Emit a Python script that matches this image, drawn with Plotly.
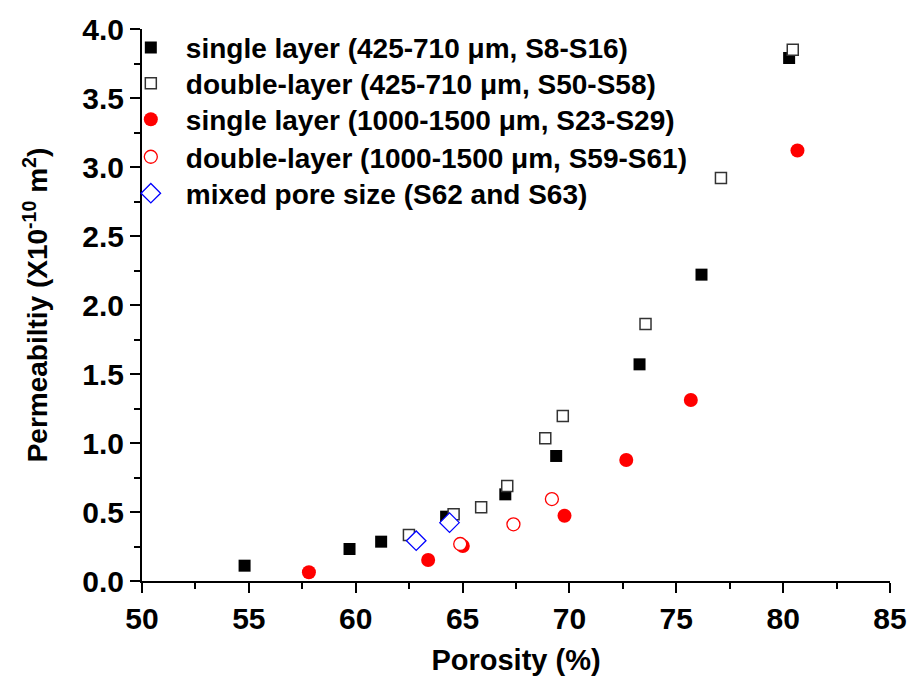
import plotly.graph_objects as go

# Data
sl425_x = [54.80, 59.71, 61.19, 64.23, 67.00, 69.38, 73.28, 76.18, 80.28]
sl425_y = [0.111, 0.232, 0.285, 0.466, 0.628, 0.906, 1.57, 2.22, 3.79]

dl425_x = [62.49, 64.58, 65.87, 67.09, 68.87, 69.69, 73.56, 77.09, 80.45]
dl425_y = [0.333, 0.483, 0.534, 0.688, 1.034, 1.196, 1.862, 2.92, 3.85]

sl1000_x = [57.81, 63.39, 65.01, 69.77, 72.66, 75.68, 80.67]
sl1000_y = [0.063, 0.152, 0.254, 0.473, 0.877, 1.312, 3.12]

dl1000_x = [64.89, 67.38, 69.18]
dl1000_y = [0.268, 0.411, 0.594]

mixed_x = [62.83, 64.39]
mixed_y = [0.292, 0.423]

names = [
    "single layer (425-710 μm, S8-S16)",
    "double-layer (425-710 μm, S50-S58)",
    "single layer (1000-1500 μm, S23-S29)",
    "double-layer (1000-1500 μm, S59-S61)",
    "mixed pore size (S62 and S63)",
]

FONT = "Liberation Sans"
legend_ids = ["legend", "legend2", "legend3", "legend4", "legend5"]
legend_rows = [0.966, 0.901, 0.836, 0.768, 0.702]

fig = go.Figure()
fig.add_trace(go.Scatter(x=sl425_x, y=sl425_y, mode="markers", name=names[0],
                         legend=legend_ids[0],
                         marker=dict(symbol="square", size=12, color="black",
                                     line=dict(width=0))))
fig.add_trace(go.Scatter(x=dl425_x, y=dl425_y, mode="markers", name=names[1],
                         legend=legend_ids[1],
                         marker=dict(symbol="square", size=11, color="white",
                                     line=dict(width=1.5, color="#333333"))))
fig.add_trace(go.Scatter(x=sl1000_x, y=sl1000_y, mode="markers", name=names[2],
                         legend=legend_ids[2],
                         marker=dict(symbol="circle", size=14, color="red",
                                     line=dict(width=0))))
fig.add_trace(go.Scatter(x=dl1000_x, y=dl1000_y, mode="markers", name=names[3],
                         legend=legend_ids[3],
                         marker=dict(symbol="circle", size=13, color="white",
                                     line=dict(width=1.3, color="red"))))
fig.add_trace(go.Scatter(x=mixed_x, y=mixed_y, mode="markers", name=names[4],
                         legend=legend_ids[4],
                         marker=dict(symbol="diamond", size=15, color="white",
                                     line=dict(width=1.3, color="blue"))))

axis_common = dict(showline=True, linecolor="black", linewidth=2,
                   showgrid=False, zeroline=False, automargin=False)

legend_style = dict(x=-0.035, xanchor="left", yanchor="middle",
                    bgcolor="rgba(0,0,0,0)", itemwidth=60,
                    font=dict(family=FONT, size=28, color="black", weight="bold"))

layout_legends = {lid: dict(y=yy, **legend_style) for lid, yy in zip(legend_ids, legend_rows)}

fig.update_layout(
    width=910, height=682,
    margin=dict(l=142, r=20, t=29, b=101),
    paper_bgcolor="white", plot_bgcolor="white",
    font=dict(family=FONT, color="black"),
    showlegend=True,
    xaxis=dict(range=[50, 85], dtick=5, tick0=50,
               ticks="outside", ticklen=10, tickwidth=2, tickcolor="black",
               minor=dict(ticks="outside", ticklen=6, tickwidth=2, dtick=2.5,
                          tickcolor="black"),
               tickfont=dict(family=FONT, size=30, weight="bold"),
               title=dict(text="Porosity (%)", standoff=16,
                          font=dict(family=FONT, size=29, weight="bold")),
               **axis_common),
    yaxis=dict(range=[0, 4.0], dtick=0.5, tick0=0, tickformat=".1f",
               ticks="outside", ticklen=10, tickwidth=2, tickcolor="black",
               minor=dict(ticks="outside", ticklen=6, tickwidth=2, dtick=0.25,
                          tickcolor="black"),
               tickfont=dict(family=FONT, size=30, weight="bold"),
               title=dict(text="Permeabiltiy (X10<sup>-10</sup> m<sup>2</sup>)", standoff=26,
                          font=dict(family=FONT, size=28, weight="bold")),
               **axis_common),
    xaxis2=dict(range=[50, 85], overlaying="x", side="top", dtick=2.5, tick0=50,
                ticks="inside", ticklen=4, tickwidth=2, tickcolor="black",
                showticklabels=False, **axis_common),
    yaxis2=dict(range=[0, 4.0], overlaying="y", side="right", dtick=0.25, tick0=0,
                ticks="inside", ticklen=4, tickwidth=2, tickcolor="black",
                showticklabels=False, **axis_common),
    **layout_legends,
)

fig.write_html("out.html")
